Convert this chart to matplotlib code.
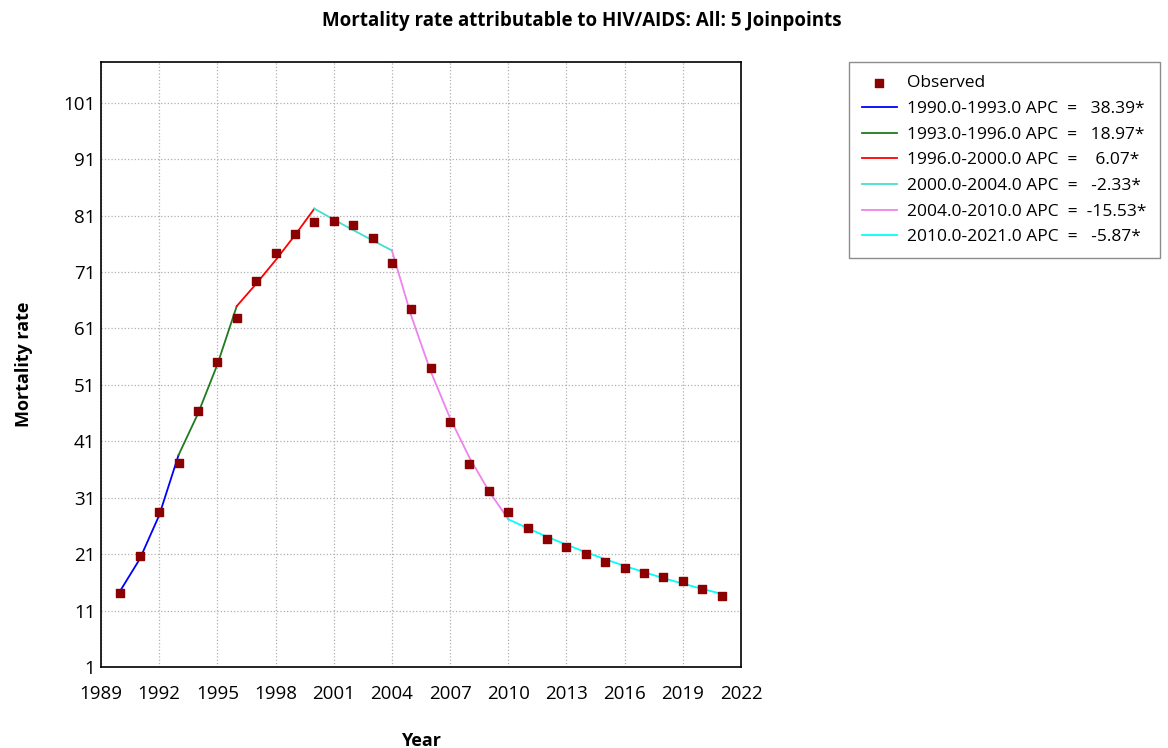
import matplotlib.pyplot as plt

plt.rcParams['font.family'] = ['Open Sans', 'DejaVu Sans']

# observed rates
years = list(range(1990, 2022))
observed = [14.1, 20.6, 28.4, 37.1, 46.3, 55.1, 62.8, 69.4, 74.4, 77.8,
            79.8, 80.1, 79.3, 77.1, 72.6, 64.5, 54.0, 44.4, 37.0, 32.1,
            28.4, 25.6, 23.6, 22.3, 21.0, 19.6, 18.5, 17.6, 17.0, 16.3,
            14.9, 13.5]

# joinpoint fitted segments (year ranges + fitted values)
seg_years = [(1990, 1993), (1993, 1996), (1996, 2000), (2000, 2004), (2004, 2010), (2010, 2021)]
seg_fit = [
    [14.55, 20.14, 27.87, 38.57],
    [38.57, 45.89, 54.59, 64.95],
    [64.95, 68.89, 73.07, 77.51, 82.21],
    [82.21, 80.29, 78.42, 76.60, 74.81],
    [74.81, 63.19, 53.38, 45.09, 38.09, 32.17, 27.18],
    [27.18, 25.58, 24.08, 22.67, 21.34, 20.09, 18.91, 17.80, 16.75, 15.77, 14.84, 13.97],
]
seg_apc = ['38.39*', '18.97*', '6.07*', '-2.33*', '-15.53*', '-5.87*']
seg_colors = ['#0000ff', '#1e7b1e', '#ff0000', '#40e0d0', '#ee82ee', '#00ffff']

fig = plt.figure(figsize=(11.68, 7.48), dpi=100)
ax = fig.add_axes([101 / 1168, 1 - 667 / 748, 640 / 1168, 605 / 748])

handles = []
h = ax.scatter(years, observed, marker='s', s=32, color='#8b0000', zorder=3, label='Observed')
handles.append(h)
for (a, b), fit, apc, c in zip(seg_years, seg_fit, seg_apc, seg_colors):
    xs = list(range(a, b + 1))
    lbl = f'{a:.1f}-{b:.1f} APC  =  {apc:>7}'
    ln, = ax.plot(xs, fit, color=c, lw=1.3, label=lbl, zorder=2)
    handles.append(ln)

ax.set_xlim(1989, 2022)
ax.set_ylim(1, 108.2)
ax.set_xticks(range(1989, 2023, 3))
ax.set_yticks(range(1, 102, 10))
ax.tick_params(labelsize=13.5, length=0)
ax.tick_params(axis='x', pad=13)
ax.tick_params(axis='y', pad=4)
ax.grid(True, color='#b0b0b0', linestyle=':', linewidth=0.9)
for s in ax.spines.values():
    s.set_linewidth(1.2)

ax.set_xlabel('Year', fontsize=13, fontweight='bold', labelpad=21)
ax.set_ylabel('Mortality rate', fontsize=13, fontweight='bold', labelpad=22)
fig.suptitle('Mortality rate attributable to HIV/AIDS: All: 5 Joinpoints',
             x=0.498, y=0.985, fontsize=13.5, fontweight='bold')

leg = fig.legend(handles=handles, loc='upper left', bbox_to_anchor=(849 / 1168, 1 - 62 / 748),
                 fontsize=12.5, frameon=True, fancybox=False, edgecolor='#707070',
                 handlelength=2.0, labelspacing=0.55, borderpad=0.75, handletextpad=0.6,
                 borderaxespad=0)
leg.get_frame().set_linewidth(1.0)

fig.savefig('out.png', dpi=100)
